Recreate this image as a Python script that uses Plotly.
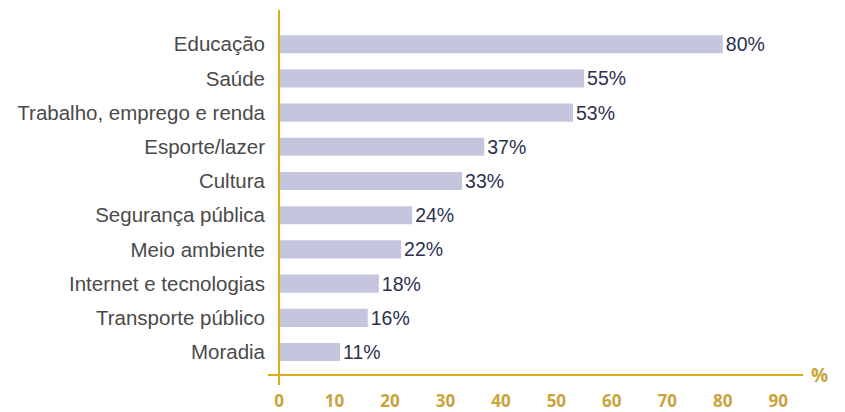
import plotly.graph_objects as go

categories = ["Educação", "Saúde", "Trabalho, emprego e renda", "Esporte/lazer", "Cultura",
              "Segurança pública", "Meio ambiente", "Internet e tecnologias",
              "Transporte público", "Moradia"]
values = [80, 55, 53, 37, 33, 24, 22, 18, 16, 11]
tick_vals = [0, 10, 20, 30, 40, 50, 60, 70, 80, 90]
labels = [f"{v}%" for v in values]

GOLD_LINE = "#d8ad16"
GOLD_TEXT = "#c9a43c"
BAR = "#c5c6de"
VAL = "#2c3150"
CAT = "#4a4a4a"

fig = go.Figure(go.Bar(
    x=values, y=categories, orientation="h",
    marker=dict(color=BAR, line=dict(width=0)),
    width=0.53,
    text=labels, textposition="outside", cliponaxis=False, constraintext="none",
    textfont=dict(family="Liberation Sans, Arial", size=19.5, color=VAL),
))

fig.update_layout(
    width=845, height=412,
    margin=dict(l=279, r=39, t=10, b=37, autoexpand=False),
    paper_bgcolor="white", plot_bgcolor="white",
    showlegend=False,
    xaxis=dict(range=[0, 95], tickvals=tick_vals, showgrid=False, zeroline=False,
               showline=False, ticks="", ticklabelstandoff=14, automargin=False,
               tickfont=dict(family="Open Sans", size=17, color=GOLD_TEXT, weight="bold")),
    yaxis=dict(categoryorder="array", categoryarray=categories[::-1], automargin=False,
               range=[-0.672, 10.0], showgrid=False, zeroline=False, showline=False,
               ticks="", ticklabelstandoff=13,
               tickfont=dict(family="Liberation Sans, Arial", size=20.5, color=CAT)),
    shapes=[
        dict(type="line", xref="paper", yref="paper", x0=-0.0209, x1=0.9943, y0=0, y1=0,
             line=dict(color=GOLD_LINE, width=2)),
        dict(type="line", xref="paper", yref="paper", x0=0, x1=0, y0=-0.0274, y1=1.0,
             line=dict(color=GOLD_LINE, width=2)),
    ],
    annotations=[
        dict(text="%", xref="paper", yref="paper", x=1.005, y=0.0, xanchor="left", yanchor="middle",
             showarrow=False, font=dict(family="Open Sans", size=19, color=GOLD_TEXT, weight="bold"))
    ],
)

fig.write_html("out.html", config={"displayModeBar": False},
               post_script="document.body.style.margin='0px';document.body.style.overflow='hidden';")
